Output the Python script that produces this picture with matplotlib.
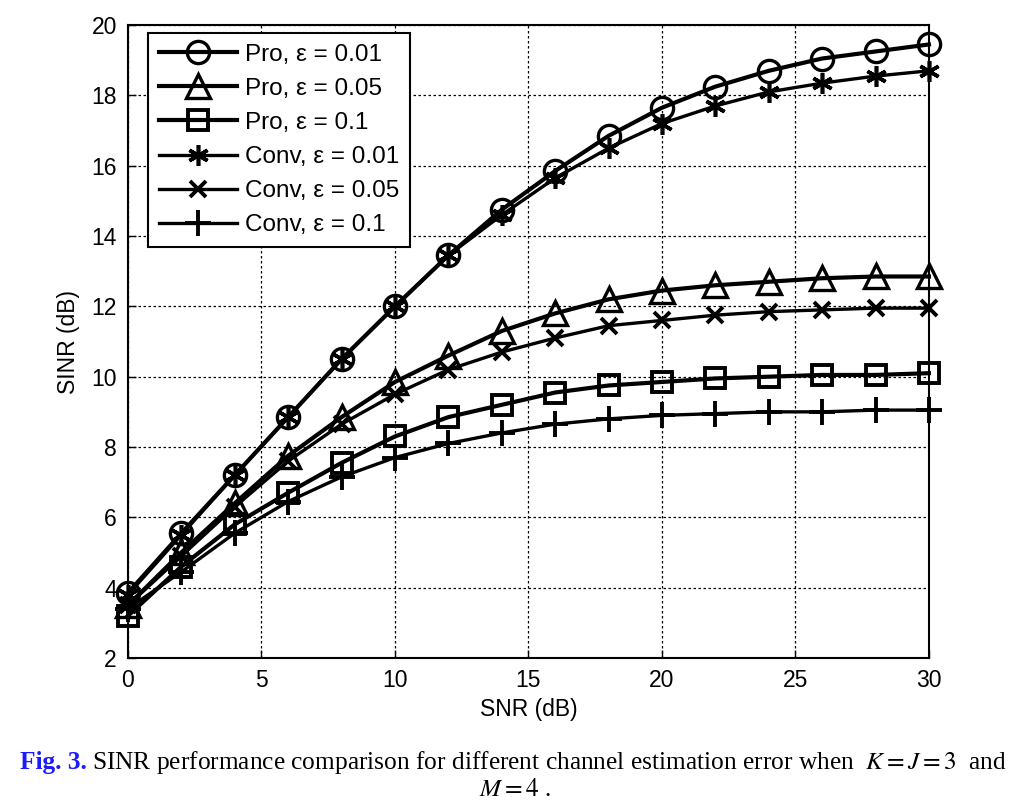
import matplotlib
matplotlib.use("Agg")
import matplotlib.pyplot as plt

# DATA
snr = [0, 2, 4, 6, 8, 10, 12, 14, 16, 18, 20, 22, 24, 26, 28, 30]

pro_001 = [3.85, 5.55, 7.2, 8.85, 10.5, 12.0, 13.45, 14.75, 15.85, 16.85, 17.65, 18.25, 18.7, 19.05, 19.25, 19.45]
pro_005 = [3.5, 5.0, 6.4, 7.75, 8.85, 9.85, 10.6, 11.3, 11.8, 12.2, 12.45, 12.6, 12.7, 12.8, 12.85, 12.85]
pro_01 = [3.2, 4.6, 5.8, 6.7, 7.55, 8.3, 8.85, 9.2, 9.55, 9.75, 9.85, 9.95, 10.0, 10.05, 10.05, 10.1]
conv_001 = [3.8, 5.5, 7.2, 8.85, 10.5, 12.0, 13.45, 14.6, 15.65, 16.5, 17.2, 17.7, 18.1, 18.35, 18.55, 18.7]
conv_005 = [3.5, 4.9, 6.3, 7.6, 8.65, 9.5, 10.2, 10.7, 11.1, 11.45, 11.6, 11.75, 11.85, 11.9, 11.95, 11.95]
conv_01 = [3.4, 4.45, 5.55, 6.45, 7.15, 7.7, 8.1, 8.4, 8.65, 8.8, 8.9, 8.95, 9.0, 9.0, 9.05, 9.05]

labels = ["Pro, \u03b5 = 0.01", "Pro, \u03b5 = 0.05", "Pro, \u03b5 = 0.1",
          "Conv, \u03b5 = 0.01", "Conv, \u03b5 = 0.05", "Conv, \u03b5 = 0.1"]

xticks = [0, 5, 10, 15, 20, 25, 30]
yticks = [2, 4, 6, 8, 10, 12, 14, 16, 18, 20]

# STYLE
plt.rcParams['font.family'] = ['Liberation Sans', 'DejaVu Sans']
plt.rcParams['mathtext.fontset'] = 'stix'
fs = 16.5

fig = plt.figure(figsize=(10.19, 8.10), dpi=100)
ax = fig.add_axes([0.1256, 0.1877, 0.786, 0.7813])

# Pro curves: thick lines, open markers
ax.plot(snr, pro_001, '-o', color='k', lw=3, ms=16, mfc='none', mew=2.4, label=labels[0], clip_on=False)
ax.plot(snr, pro_005, '-^', color='k', lw=3, ms=17, mfc='none', mew=2.4, label=labels[1], clip_on=False)
ax.plot(snr, pro_01, '-s', color='k', lw=3, ms=14, mfc='none', mew=2.8, label=labels[2], clip_on=False)
# Conv curves: thinner lines
ax.plot(snr, conv_001, '-', marker=(6, 2, 0), color='k', lw=2.4, ms=15, mew=2.6, label=labels[3], clip_on=False)
ax.plot(snr, conv_005, '-x', color='k', lw=2.4, ms=11, mew=2.8, label=labels[4], clip_on=False)
ax.plot(snr, conv_01, '-+', color='k', lw=2.4, ms=19, mew=2.8, label=labels[5], clip_on=False)

ax.set_xlim(0, 30)
ax.set_ylim(2, 20)
ax.set_xticks(xticks)
ax.set_yticks(yticks)
ax.tick_params(direction='in', length=6, width=1, labelsize=fs, pad=8)
ax.grid(True, color='k', linestyle=(0, (2, 2)), linewidth=0.9)
for s in ax.spines.values():
    s.set_linewidth(1.5)

ax.set_xlabel("SNR (dB)", fontsize=fs, labelpad=4)
ax.set_ylabel("SINR (dB)", fontsize=fs, labelpad=8)

leg = ax.legend(loc='upper left', bbox_to_anchor=(0.025, 0.988), fontsize=17.5,
                handlelength=3.2, handletextpad=0.35, labelspacing=0.5,
                borderpad=0.45, borderaxespad=0, fancybox=False, framealpha=1, edgecolor='k')
leg.get_frame().set_linewidth(1.5)

# CAPTION
serif = ['Liberation Serif', 'DejaVu Serif']
cfs = 18.3
fig.canvas.draw()
r = fig.canvas.get_renderer()
t1 = fig.text(20 / 1019, 1 - 762 / 810, "Fig. 3.", color='#1a1aff', fontweight='bold',
              family=serif, fontsize=cfs, va='center')
bb = t1.get_window_extent(r)
fig.text((bb.x1 + 5) / 1019, 1 - 762 / 810,
         "SINR performance comparison for different channel estimation error when  $K = J = 3$  and",
         family=serif, fontsize=cfs, va='center')
fig.text(515 / 1019, 1 - 790 / 810, "$M = 4$ .", family=serif, fontsize=cfs,
         va='center', ha='center')

fig.savefig("out.png", dpi=100)
